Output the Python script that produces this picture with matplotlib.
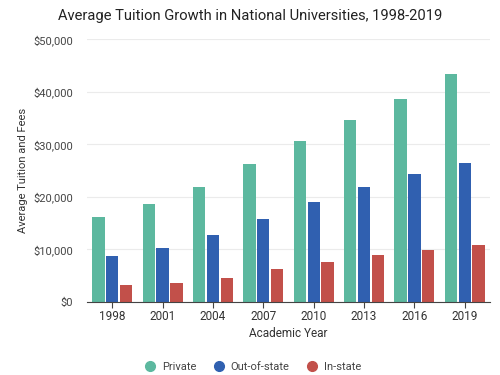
import matplotlib.pyplot as plt
import numpy as np
from matplotlib.lines import Line2D
from matplotlib.ticker import FuncFormatter

years = ["1998", "2001", "2004", "2007", "2010", "2013", "2016", "2019"]
private = [16150, 18570, 21940, 26190, 30700, 34700, 38570, 43390]
out_of_state = [8730, 10190, 12670, 15840, 19010, 21940, 24290, 26380]
in_state = [3140, 3520, 4600, 6250, 7590, 8980, 9940, 10890]

series = [("Private", private, "#5cb89f"),
          ("Out-of-state", out_of_state, "#3060b0"),
          ("In-state", in_state, "#c2504a")]

plt.rcParams["font.family"] = ["Roboto", "DejaVu Sans"]

fig = plt.figure(figsize=(5, 3.75), dpi=100)
ax = fig.add_axes([0.174, 0.195, 0.806, 0.70])

x = np.arange(len(years))
width = 0.245
step = 0.275
for i, (name, vals, color) in enumerate(series):
    ax.bar(x + (i - 1) * step, vals, width, color=color, zorder=2)

ax.set_xlim(-0.5, len(years) - 0.5)
ax.set_ylim(0, 50000)
ax.set_yticks(range(0, 50001, 10000))
ax.yaxis.set_major_formatter(FuncFormatter(lambda v, p: f"${v:,.0f}"))
ax.set_xticks(x)
ax.set_xticklabels(years)
ax.grid(axis="y", color="#ebebeb", linewidth=0.8, zorder=0)
for s in ["top", "right", "left"]:
    ax.spines[s].set_visible(False)
ax.spines["bottom"].set_color("#444444")
ax.tick_params(axis="y", length=0, colors="#444444", labelsize=8, pad=10)
ax.tick_params(axis="x", length=4, color="#444444", colors="#333333", labelsize=8.5, pad=2)

ax.set_xlabel("Academic Year", fontsize=8.5, color="#333333", labelpad=3)
ax.set_ylabel("Average Tuition and Fees", fontsize=8, color="#333333", labelpad=4)
fig.text(0.5, 0.958, "Average Tuition Growth in National Universities, 1998-2019",
         ha="center", va="center", fontsize=10.6, color="#222222")

handles = [Line2D([], [], marker="o", linestyle="", markersize=7, color=c) for _, _, c in series]
fig.legend(handles, [n for n, _, _ in series], loc="center", bbox_to_anchor=(0.5, 0.022),
           ncol=3, frameon=False, fontsize=8, handletextpad=0.1, columnspacing=1.0,
           labelcolor="#444444")

fig.savefig("out.png", dpi=100)
